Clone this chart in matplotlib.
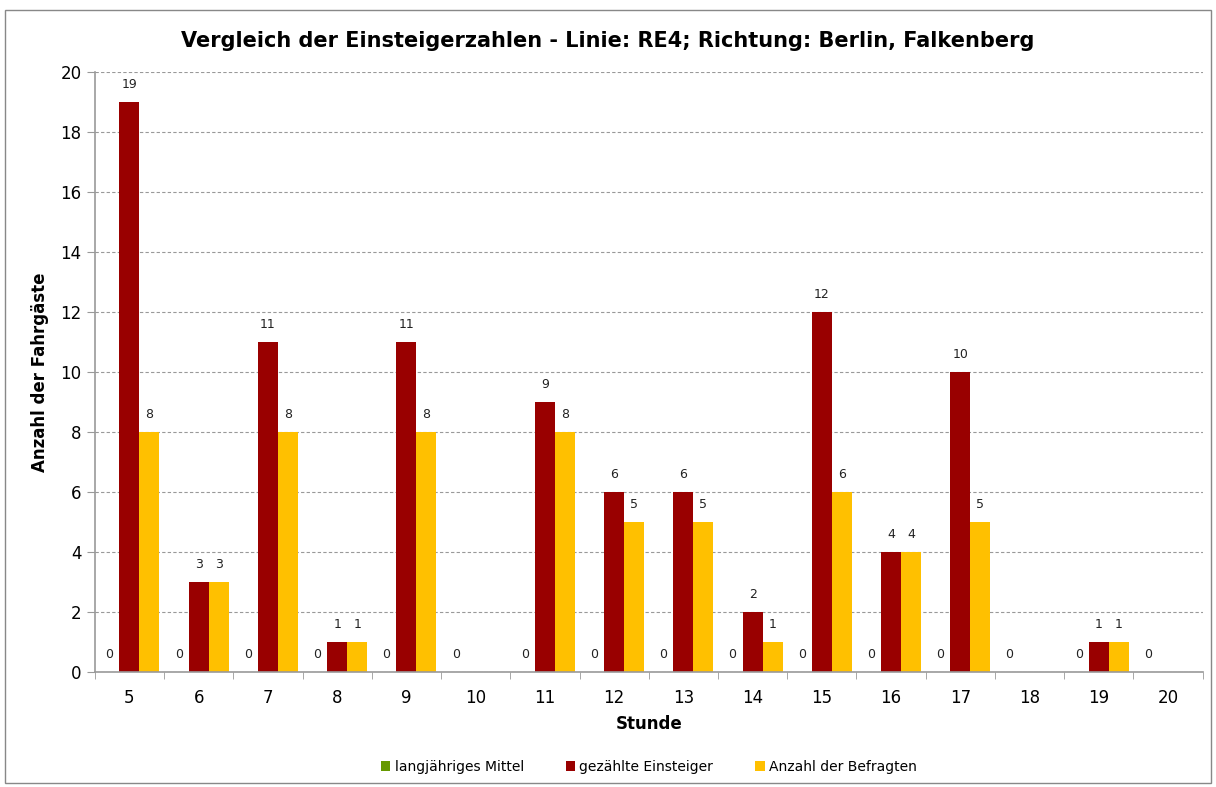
import numpy as np
import matplotlib
matplotlib.use("Agg")
import matplotlib.pyplot as plt
from matplotlib.patches import Rectangle

hours = [5, 6, 7, 8, 9, 10, 11, 12, 13, 14, 15, 16, 17, 18, 19, 20]
mittel = [0, 0, 0, 0, 0, 0, 0, 0, 0, 0, 0, 0, 0, 0, 0, 0]
gezaehlt = [19, 3, 11, 1, 11, None, 9, 6, 6, 2, 12, 4, 10, None, 1, None]
befragte = [8, 3, 8, 1, 8, None, 8, 5, 5, 1, 6, 4, 5, None, 1, None]

series = [
    ("langjähriges Mittel", mittel, "#669900"),
    ("gezählte Einsteiger", gezaehlt, "#990000"),
    ("Anzahl der Befragten", befragte, "#FFC000"),
]

plt.rcParams["font.family"] = ["DejaVu Sans"]

fig = plt.figure(figsize=(12.16, 7.87), dpi=100)
ax = fig.add_axes([0.078, 0.146, 0.911, 0.7625])

x = np.arange(len(hours))
w = 0.289
for i, (name, vals, col) in enumerate(series):
    xs = [xi + (i - 1) * w for xi, v in zip(x, vals) if v is not None]
    vs = [v for v in vals if v is not None]
    ax.bar(xs, vs, width=w, color=col, label=name, zorder=2)
    for xi, v in zip(xs, vs):
        ax.annotate(str(v), (xi, v), xytext=(0, 8), textcoords="offset points",
                    ha="center", va="bottom", fontsize=9, color="#222222")

ax.set_xlim(-0.5, len(hours) - 0.5)
ax.set_ylim(0, 20)
ax.set_yticks(range(0, 21, 2))
ax.set_xticks(x)
ax.set_xticklabels(hours)
ax.set_xticks(np.arange(-0.5, len(hours), 1), minor=True)
ax.tick_params(axis="x", which="major", length=0, labelsize=12, pad=12)
ax.tick_params(axis="x", which="minor", length=5, color="#999999")
ax.tick_params(axis="y", labelsize=12, length=6, color="#999999")

ax.grid(axis="y", linestyle=(0, (3, 2)), color="#999999", linewidth=0.8, zorder=0)
for s in ["top", "right"]:
    ax.spines[s].set_visible(False)
for s in ["left", "bottom"]:
    ax.spines[s].set_color("#999999")
    ax.spines[s].set_linewidth(1.2)

ax.set_xlabel("Stunde", fontsize=12, fontweight="bold", labelpad=6)
ax.set_ylabel("Anzahl der Fahrgäste", fontsize=12, fontweight="bold", labelpad=8)
fig.suptitle("Vergleich der Einsteigerzahlen - Linie: RE4; Richtung: Berlin, Falkenberg",
             fontsize=15, fontweight="bold", y=0.96)

ax.legend(loc="upper center", bbox_to_anchor=(0.5, -0.125), ncol=3, frameon=False,
          fontsize=10, handlelength=0.7, handleheight=0.7, columnspacing=3,
          handletextpad=0.3)

fig.patches.append(Rectangle((0.004, 0.005), 0.992, 0.982, transform=fig.transFigure,
                             fill=False, edgecolor="#888888", linewidth=1))

fig.savefig("out.png", dpi=100, facecolor="white")
